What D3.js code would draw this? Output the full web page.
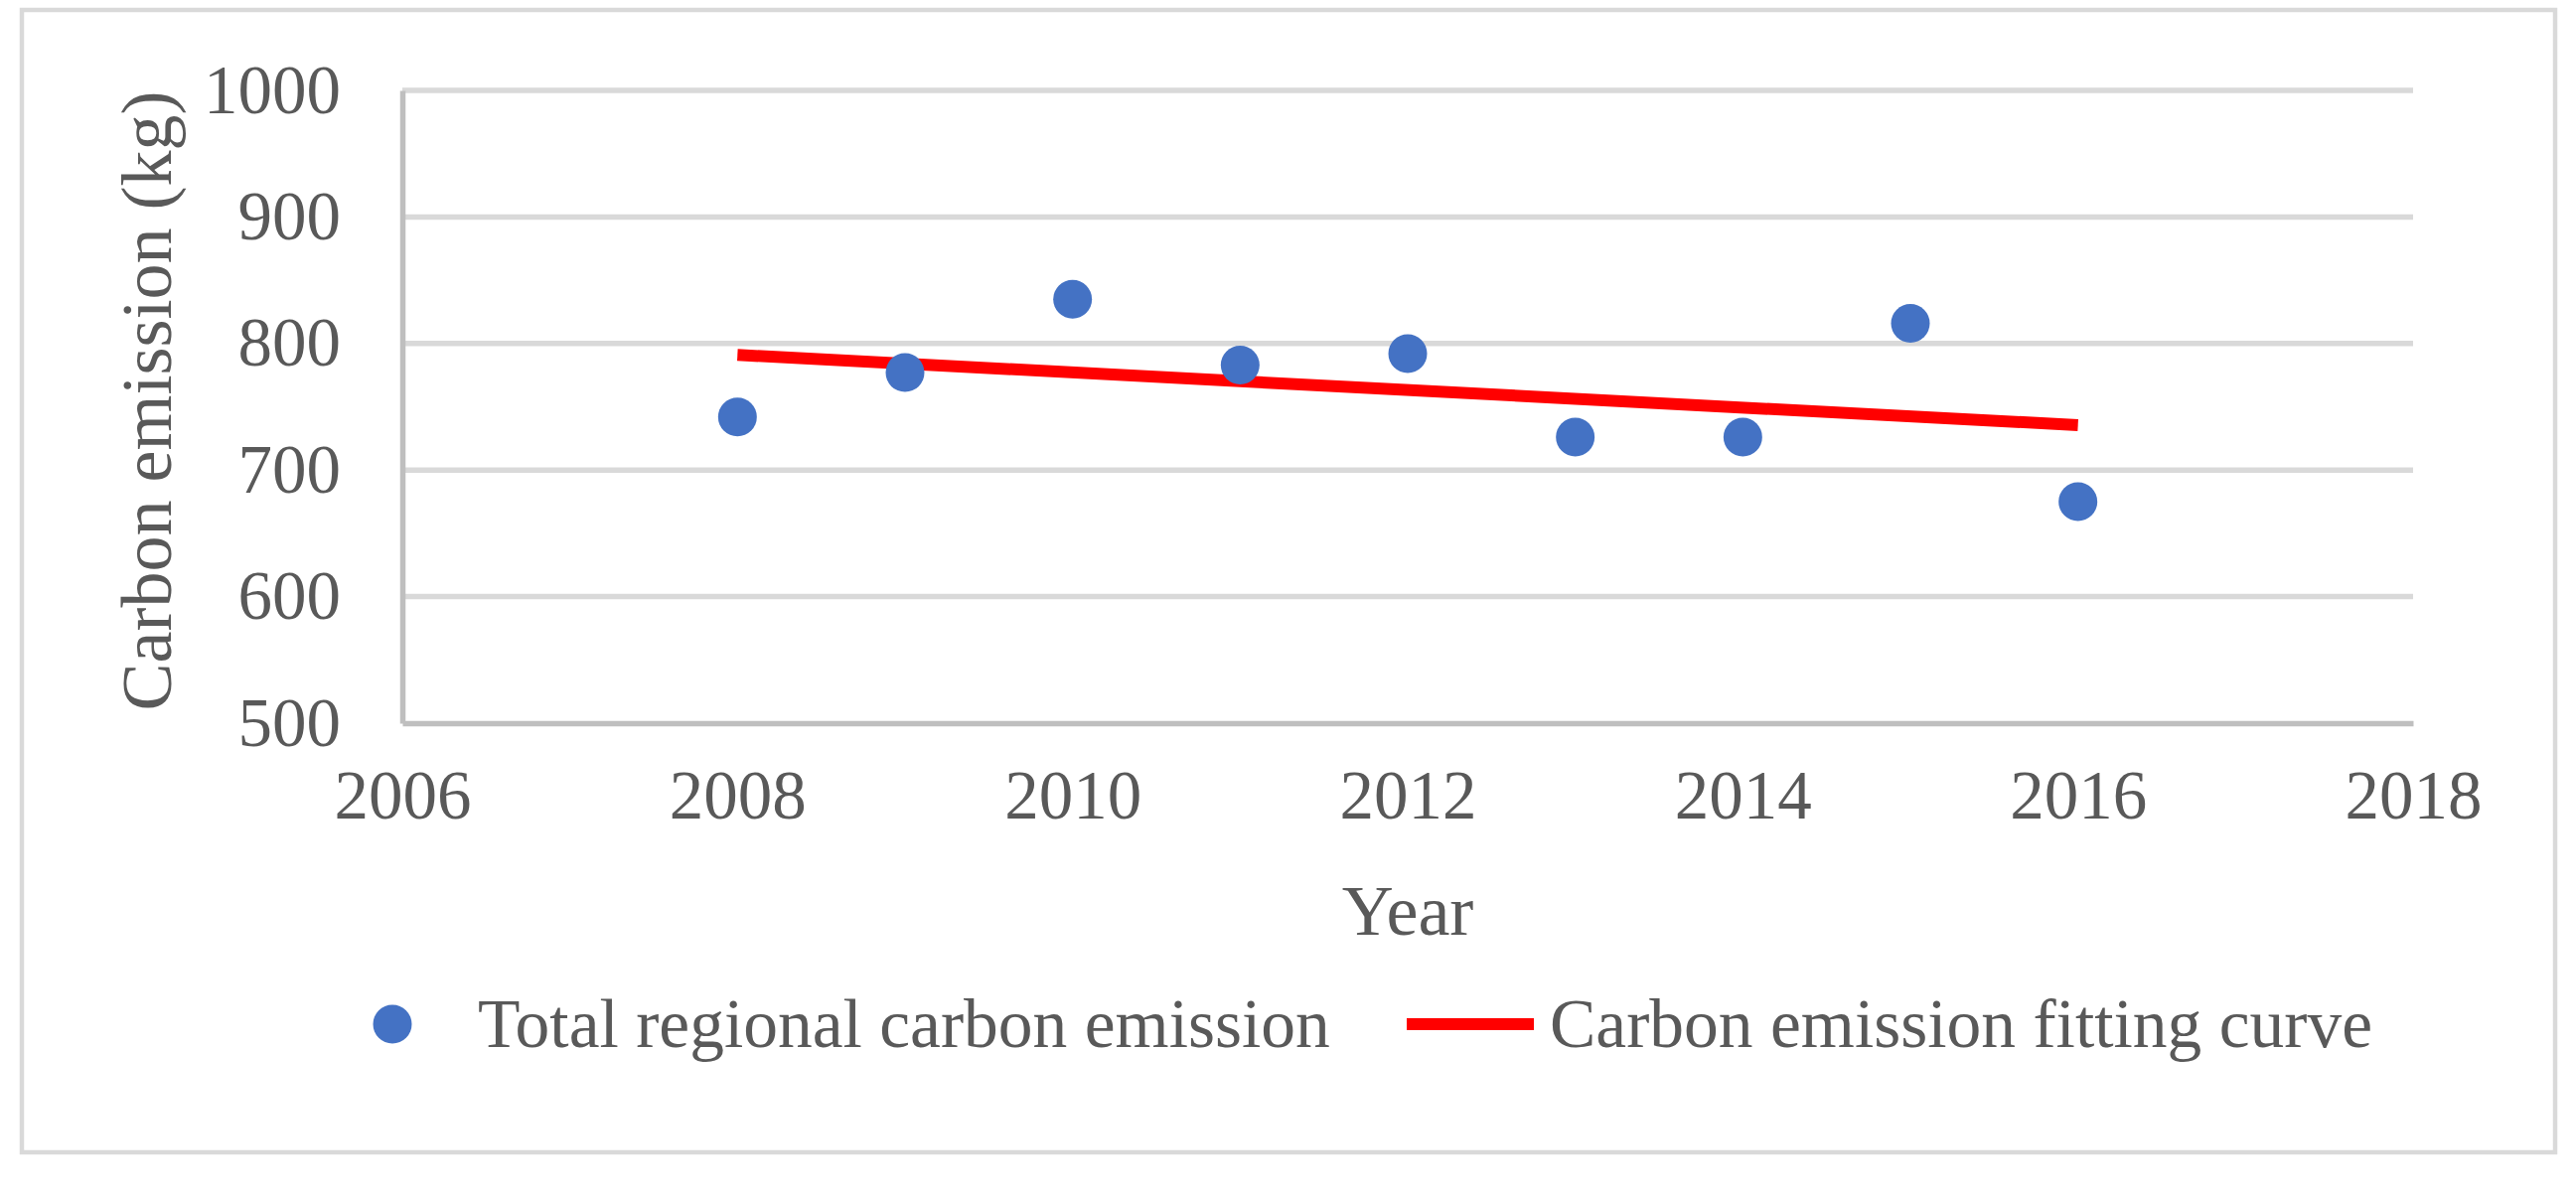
<!DOCTYPE html>
<head>
  <meta charset='utf-8'>
  <script src="https://d3js.org/d3.v7.min.js"></script>
  <style>
    body { margin: 0; background: #ffffff; }
    text { font-family: "Liberation Serif", "Times New Roman", serif; fill: #595959; }
  </style>
</head>
<body>
  <div id="container"></div>
  <script type="text/javascript">

    // data
    var years = [2008, 2009, 2010, 2011, 2012, 2013, 2014, 2015, 2016];
    var emission = [742, 777, 835, 783, 792, 726, 726, 816, 675];
    var fit_years = [2008, 2016];
    var fit_values = [791, 735.5];
    var x_ticks = [2006, 2008, 2010, 2012, 2014, 2016, 2018];
    var y_ticks = [500, 600, 700, 800, 900, 1000];
    var legend_labels = ["Total regional carbon emission", "Carbon emission fitting curve"];

    var W = 2593, H = 1206;
    // plot box (window.top is taken, so use other names)
    var plot_left = 405, plot_right = 2429, plot_top = 91, plot_bottom = 728;

    var svg = d3.select("#container").append("svg")
        .attr("width", W)
        .attr("height", H);

    svg.append("rect").attr("width", W).attr("height", H).attr("fill", "#ffffff");

    // outer chart border
    svg.append("rect")
        .attr("x", 22).attr("y", 10)
        .attr("width", 2550).attr("height", 1150)
        .attr("fill", "none")
        .attr("stroke", "#d9d9d9")
        .attr("stroke-width", 4.5);

    var x = d3.scaleLinear().domain([2006, 2018]).range([plot_left, plot_right]);
    var y = d3.scaleLinear().domain([500, 1000]).range([plot_bottom, plot_top]);

    // gridlines
    svg.append("g").selectAll("line")
        .data(y_ticks.slice(1))
        .enter().append("line")
        .attr("x1", plot_left).attr("x2", plot_right)
        .attr("y1", function(d){ return y(d); })
        .attr("y2", function(d){ return y(d); })
        .attr("stroke", "#d9d9d9")
        .attr("stroke-width", 5.5);

    // y axis
    var y_axis = svg.append("g")
        .attr("transform", "translate(" + plot_left + ",0)")
        .call(d3.axisLeft(y).tickValues(y_ticks).tickFormat(d3.format("d")).tickSize(0).tickPadding(62));
    y_axis.select(".domain").attr("stroke", "#bfbfbf").attr("stroke-width", 5.5);
    y_axis.selectAll("text").style("font-size", "69px")
        .style("font-family", "Liberation Serif").attr("fill", "#595959");

    // x axis
    var x_axis = svg.append("g")
        .attr("transform", "translate(0," + plot_bottom + ")")
        .call(d3.axisBottom(x).tickValues(x_ticks).tickFormat(d3.format("d")).tickSize(0).tickPadding(47));
    x_axis.select(".domain").attr("stroke", "#bfbfbf").attr("stroke-width", 5.5);
    x_axis.selectAll("text").style("font-size", "69px")
        .style("font-family", "Liberation Serif").attr("fill", "#595959");

    // axis titles
    svg.append("text")
        .attr("x", (plot_left + plot_right) / 2).attr("y", 941)
        .attr("text-anchor", "middle")
        .style("font-size", "72px")
        .text("Year");

    svg.append("text")
        .attr("transform", "translate(172," + ((plot_top + plot_bottom) / 2 - 6) + ") rotate(-90)")
        .attr("text-anchor", "middle")
        .style("font-size", "72px")
        .text("Carbon emission (kg)");

    // fitting line
    var line = d3.line()
        .x(function(d){ return x(d[0]); })
        .y(function(d){ return y(d[1]); });
    svg.append("path")
        .datum(d3.zip(fit_years, fit_values))
        .attr("d", line)
        .attr("fill", "none")
        .attr("stroke", "#ff0000")
        .attr("stroke-width", 12);

    // scatter points
    svg.append("g").selectAll("circle")
        .data(d3.zip(years, emission))
        .enter().append("circle")
        .attr("cx", function(d){ return x(d[0]); })
        .attr("cy", function(d){ return y(d[1]); })
        .attr("r", 19.5)
        .attr("fill", "#4472c4");

    // legend
    var ly = 1031;
    svg.append("circle").attr("cx", 395).attr("cy", ly).attr("r", 19.5).attr("fill", "#4472c4");
    svg.append("text").attr("x", 481).attr("y", ly + 23)
        .style("font-size", "69.5px").text(legend_labels[0]);
    svg.append("line").attr("x1", 1416).attr("x2", 1544)
        .attr("y1", ly).attr("y2", ly)
        .attr("stroke", "#ff0000").attr("stroke-width", 12);
    svg.append("text").attr("x", 1560).attr("y", ly + 23)
        .style("font-size", "69.5px").text(legend_labels[1]);

  </script>
</body>
